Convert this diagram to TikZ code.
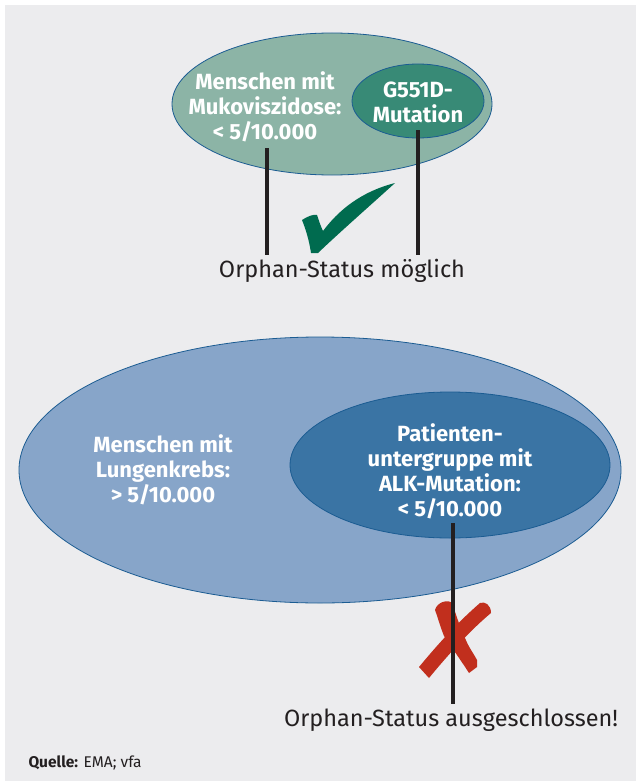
\documentclass[tikz,border=0pt]{standalone}
\usepackage{fontspec}
\setmainfont{Fira Sans}
\usetikzlibrary{shapes.geometric}
\definecolor{bggrey}{HTML}{ECECEE}
\definecolor{rimblue}{HTML}{1B5C92}
\definecolor{tealpale}{HTML}{8CB4A6}
\definecolor{tealdark}{HTML}{388A76}
\definecolor{bluepale}{HTML}{87A5C9}
\definecolor{bluedark}{HTML}{3A74A4}
\definecolor{checkgreen}{HTML}{006B4F}
\definecolor{crossred}{HTML}{C12F1D}
\definecolor{inkdark}{HTML}{231F20}
\tikzset{
  blob/.style={ellipse, draw=rimblue, line width=0.8pt, inner sep=0pt},
  whitetxt/.style={text=white, font=\bfseries\fontsize{22}{25}\selectfont, align=center},
  status/.style={text=inkdark, font=\fontsize{23.5}{26}\selectfont, inner sep=4pt},
  stem/.style={draw=inkdark, line width=3.6pt},
}
\begin{document}
\begin{tikzpicture}[x=1pt,y=-1pt]
  \useasboundingbox (0,0) rectangle (636,781);
  \fill[bggrey] (5,5) rectangle (636,781);
  % oben: Mukoviszidose
  \node[blob, fill=tealpale, minimum width=320pt, minimum height=142pt] (muko) at (332,104) {};
  \node[blob, fill=tealdark, minimum width=132pt, minimum height=74pt] (g551) at (418,101) {};
  \node[whitetxt] (g551txt) at (418,102) {G551D-\\Mutation};
  \node[whitetxt] (mukotxt) at (265,107) {Menschen mit\\Mukoviszidose:\\< 5/10.000};
  \node[status] (moeglich) at (342,271) {Orphan-Status möglich};
  \coordinate (mukofoot) at (267,148);
  \coordinate (g551foot) at (418,130);
  \draw[stem] (mukofoot) -- (mukofoot |- moeglich.north);
  \draw[stem] (g551foot) -- (g551foot |- moeglich.north);
  % Haken
  \fill[checkgreen] (302,220) .. controls (308,216) and (314,214) .. (317,215)
    .. controls (319,221) and (321,227) .. (323,231)
    .. controls (338,211) and (360,192) .. (395,183)
    .. controls (373,203) and (340,232) .. (318,253) -- (311,253)
    .. controls (309,240) and (306,230) .. (302,220) -- cycle;
  % unten: Lungenkrebs
  \node[blob, fill=bluepale, minimum width=602pt, minimum height=266pt] (lunge) at (320,470) {};
  \node[blob, fill=bluedark, minimum width=320pt, minimum height=146pt] (alk) at (450,465) {};
  \node[whitetxt] (lungetxt) at (163,470) {Menschen mit\\Lungenkrebs:\\> 5/10.000};
  \node[whitetxt] (alktxt) at (450,471) {Patienten-\\untergruppe mit\\ALK-Mutation:\\< 5/10.000};
  % Kreuz
  \fill[crossred] (435,610) .. controls (437,602) and (448,599) .. (452,603)
    .. controls (456,614) and (460,628) .. (465,638)
    .. controls (469,648) and (474,654) .. (477,660) -- (477,667) -- (469,673)
    .. controls (462,662) and (452,648) .. (444,636)
    .. controls (440,626) and (438,618) .. (435,610) -- cycle;
  \fill[crossred] (480,603) .. controls (485,601) and (491,605) .. (491,613)
    .. controls (473,628) and (452,650) .. (429,678) -- (419,667)
    .. controls (438,644) and (458,622) .. (480,603) -- cycle;
  \node[status] (ausgeschl) at (451,720) {Orphan-Status ausgeschlossen!};
  \coordinate (alkfoot) at (453,523);
  \draw[stem] (alkfoot) -- (alkfoot |- ausgeschl.north);
  \node[anchor=west, text=inkdark, font=\fontsize{15.5}{18}\selectfont] (quelle) at (25,763) {\textbf{Quelle:} EMA; vfa};
\end{tikzpicture}
\end{document}
